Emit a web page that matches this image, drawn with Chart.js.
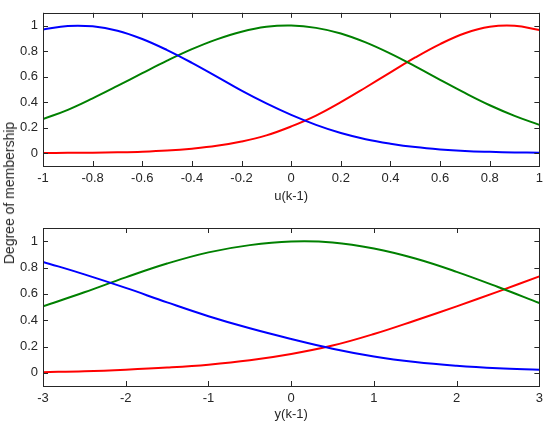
<!DOCTYPE html>
<html>
<head>
<meta charset="utf-8">
<script src="https://cdn.jsdelivr.net/npm/chart.js@4"></script>
<style>
  body { margin: 0; background: #fff; }
  #wrap { position: relative; width: 548px; height: 428px; overflow: hidden; }
  canvas { position: absolute; left: 0; }
  #ylab {
    position: absolute; left: 9px; top: 193px;
    transform: translate(-50%, -50%) rotate(-90deg);
    font: 14px "Liberation Sans", Arial, sans-serif; color: #262626; white-space: nowrap;
  }
</style>
</head>
<body>
<div id="wrap">
  <canvas id="topChart" width="548" height="214" style="top:0"></canvas>
  <canvas id="botChart" width="548" height="214" style="top:214px"></canvas>
  <div id="ylab">Degree of membership</div>
</div>
<script>
// u(k-1) membership functions
const uX = [-1, -0.9, -0.8, -0.7, -0.6, -0.5, -0.4, -0.3, -0.2, -0.1, 0, 0.1, 0.2, 0.3, 0.4, 0.5, 0.6, 0.7, 0.8, 0.9, 1];
const uBlue  = [0.97, 0.997, 0.994, 0.96, 0.895, 0.808, 0.708, 0.60, 0.49, 0.39, 0.30, 0.222, 0.158, 0.11, 0.075, 0.048, 0.03, 0.018, 0.011, 0.006, 0.004];
const uGreen = [0.267, 0.34, 0.43, 0.527, 0.627, 0.725, 0.815, 0.892, 0.952, 0.99, 1.0, 0.982, 0.938, 0.868, 0.78, 0.68, 0.575, 0.472, 0.376, 0.293, 0.222];
const uRed   = [0.002, 0.003, 0.004, 0.007, 0.012, 0.021, 0.036, 0.058, 0.092, 0.14, 0.21, 0.295, 0.40, 0.515, 0.633, 0.75, 0.855, 0.94, 0.99, 0.998, 0.965];
const uTicks = [-1, -0.8, -0.6, -0.4, -0.2, 0, 0.2, 0.4, 0.6, 0.8, 1];

// y(k-1) membership functions
const yX = [-3, -2.5, -2, -1.5, -1, -0.5, 0, 0.5, 1, 1.5, 2, 2.5, 3];
const yBlue  = [0.843, 0.748, 0.645, 0.535, 0.43, 0.338, 0.257, 0.183, 0.124, 0.082, 0.054, 0.035, 0.023];
const yGreen = [0.505, 0.612, 0.725, 0.83, 0.915, 0.97, 0.997, 0.99, 0.944, 0.868, 0.767, 0.652, 0.53];
const yRed   = [0.005, 0.012, 0.024, 0.04, 0.062, 0.095, 0.143, 0.207, 0.295, 0.398, 0.505, 0.617, 0.733];
const yTicks = [-3, -2, -1, 0, 1, 2, 3];

const degTicks = [0, 0.2, 0.4, 0.6, 0.8, 1];

const FONT = { family: '"Liberation Sans", Arial, sans-serif', size: 13 };
const INK = '#262626';

// MATLAB style box with inward ticks on all four sides
const boxPlugin = {
  id: 'box',
  afterDraw(chart) {
    const { ctx, chartArea: a, scales: { x, y } } = chart;
    ctx.save();
    ctx.strokeStyle = INK;
    ctx.lineWidth = 1;
    ctx.beginPath();
    x.ticks.forEach(t => {
      const px = Math.round(x.getPixelForValue(t.value)) + 0.5;
      ctx.moveTo(px, a.bottom); ctx.lineTo(px, a.bottom - 5);
      ctx.moveTo(px, a.top); ctx.lineTo(px, a.top + 5);
    });
    y.ticks.forEach(t => {
      const py = Math.round(y.getPixelForValue(t.value)) + 0.5;
      ctx.moveTo(a.left, py); ctx.lineTo(a.left + 5, py);
      ctx.moveTo(a.right, py); ctx.lineTo(a.right - 5, py);
    });
    ctx.stroke();
    ctx.strokeRect(Math.round(a.left) + 0.5, Math.round(a.top) + 0.5,
      Math.round(a.right - a.left), Math.round(a.bottom - a.top));
    ctx.restore();
  }
};

function series(xs, ys, color) {
  return {
    data: xs.map((v, i) => ({ x: v, y: ys[i] })),
    borderColor: color,
    borderWidth: 2,
    pointRadius: 0,
    fill: false,
    tension: 0.4
  };
}

const fmt = v => String(Math.round(v * 10) / 10);

function makeChart(id, xs, blue, green, red, xTicks, title, padTop, axisH, titlePad) {
  const ctx = document.getElementById(id).getContext('2d');
  return new Chart(ctx, {
    type: 'line',
    data: {
      datasets: [
        series(xs, blue, '#0000ff'),
        series(xs, green, '#008000'),
        series(xs, red, '#ff0000')
      ]
    },
    options: {
      responsive: false,
      animation: false,
      layout: { padding: { top: padTop, right: 2, left: 0, bottom: 0 } },
      plugins: { legend: { display: false }, tooltip: { enabled: false } },
      scales: {
        x: {
          type: 'linear',
          min: xTicks[0],
          max: xTicks[xTicks.length - 1],
          afterBuildTicks: s => { s.ticks = xTicks.map(v => ({ value: v })); },
          afterFit: s => { s.height = axisH; },
          grid: { display: false, drawTicks: false },
          border: { display: false },
          ticks: { color: INK, font: FONT, padding: 5, maxRotation: 0, autoSkip: false, callback: fmt },
          title: { display: true, text: title, color: INK, font: FONT, padding: { top: 0, bottom: titlePad } }
        },
        y: {
          min: -0.1,
          max: 1.1,
          afterBuildTicks: s => { s.ticks = degTicks.map(v => ({ value: v })); },
          afterFit: s => { s.width = 43; },
          grid: { display: false, drawTicks: false },
          border: { display: false },
          ticks: { color: INK, font: FONT, padding: 5, callback: fmt }
        }
      }
    },
    plugins: [boxPlugin]
  });
}

makeChart('topChart', uX, uBlue, uGreen, uRed, uTicks, 'u(k-1)', 8, 48, 10);
makeChart('botChart', yX, yBlue, yGreen, yRed, yTicks, 'y(k-1)', 14, 42, 6);
</script>
</body>
</html>
